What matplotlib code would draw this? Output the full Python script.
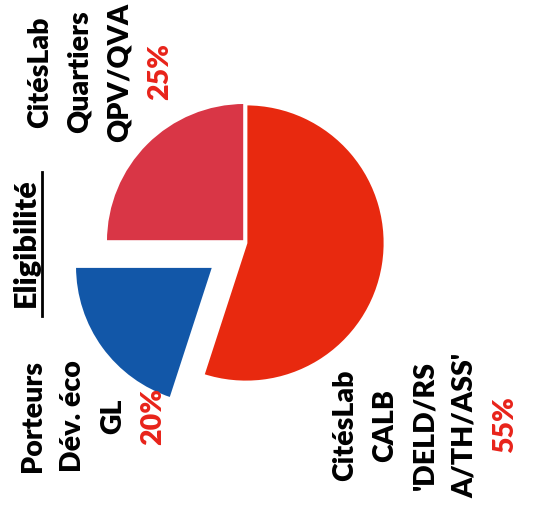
import matplotlib.pyplot as plt

# Pie data (order: clockwise from the top)
labels = ["CitésLab\nCALB\n'DELD/RS\nA/TH/ASS'", "Porteurs\nDév. éco\nGL", "CitésLab\nQuartiers\nQPV/QVA"]
shares = [55, 20, 25]
pct_labels = ["55%", "20%", "25%"]
colors = ["#E8290F", "#1257A8", "#D93646"]

W, H = 534, 508
R = 139
# pie drawn in pixel units, so explode offsets are in pixels
explode = [0, 40, 2]

fig = plt.figure(figsize=(W / 100, H / 100), dpi=100)
ax = fig.add_axes([0, 0, 1, 1])

ax.pie(shares, colors=colors, explode=explode, startangle=90, counterclock=False,
       center=(246, H - 243), radius=R,
       wedgeprops=dict(edgecolor="white", linewidth=2))
ax.set_xlim(0, W)
ax.set_ylim(0, H)
ax.set_aspect("equal")
ax.axis("off")

font = ["Lato", "DejaVu Sans"]
fs = 20.5
wt = "heavy"
# label blocks: lines stacked left->right, text reading bottom->top
blocks = [
    (labels[0], pct_labels[0], 345, 425),
    (labels[1], pct_labels[1], 33, 416),
    (labels[2], pct_labels[2], 40, 72),
]
step = 40
for text, pct, x0, yc in blocks:
    lines = text.split("\n") + [pct]
    for i, line in enumerate(lines):
        col = "#E8231A" if i == len(lines) - 1 else "black"
        ax.text(x0 + i * step, H - yc, line, rotation=90, ha="center", va="center",
                fontsize=fs, fontweight=wt, color=col, family=font, zorder=5)

# title with underline
ax.text(26, H - 243, "Eligibilité", rotation=90, ha="center", va="center",
        fontsize=22, fontweight=wt, color="black", family=font)
ax.plot([42, 42], [H - 172, H - 316], color="black", lw=2)

fig.savefig("out.png", dpi=100)
